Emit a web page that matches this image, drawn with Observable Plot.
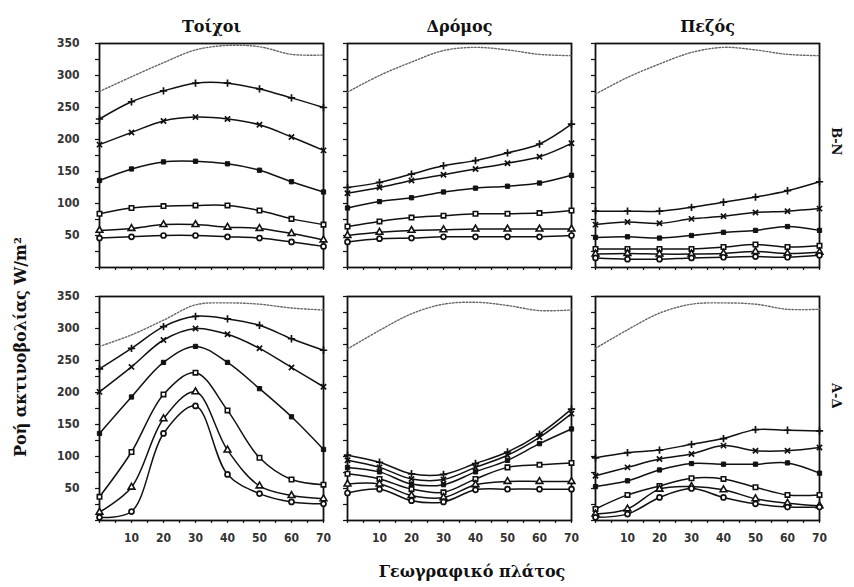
<!DOCTYPE html>
<html>
<head>
<meta charset="utf-8">
<script src="https://cdn.jsdelivr.net/npm/d3@7"></script>
<script src="https://cdn.jsdelivr.net/npm/@observablehq/plot@0.6"></script>
<style>
  body { margin: 0; background: #fff; }
</style>
</head>
<body>
<div id="chart"></div>
<script>
// Geographic latitude (degrees) at which each flux was computed
const latitudes = [0, 10, 20, 30, 40, 50, 60, 70];
const surfaces = ["Τοίχοι", "Δρόμος", "Πεζός"];
const orientations = ["Β-Ν", "Α-Δ"];
// Series order inside each panel: reference (dotted) curve, then the six marked curves
const seriesNames = ["reference", "plus", "times", "squareFilled", "squareOpen", "triangle", "circle"];

// Radiation flux (W/m²), street axis North–South
const walls_NS = [
  [275, 298, 320, 340, 347, 345, 333, 332],
  [232, 259, 276, 288, 288, 279, 265, 250],
  [192, 211, 229, 235, 232, 223, 204, 183],
  [136, 154, 165, 166, 162, 152, 134, 118],
  [84, 93, 96, 97, 97, 89, 76, 67],
  [58, 61, 67, 67, 63, 61, 53, 43],
  [46, 48, 50, 50, 48, 46, 40, 33]
];
const road_NS = [
  [274, 300, 321, 339, 344, 340, 333, 331],
  [125, 133, 146, 159, 167, 179, 193, 224],
  [116, 125, 136, 145, 154, 163, 173, 194],
  [93, 103, 109, 118, 124, 127, 132, 144],
  [64, 72, 78, 81, 84, 84, 85, 89],
  [50, 55, 58, 59, 60, 60, 60, 60],
  [40, 45, 46, 48, 48, 48, 48, 50]
];
const pavement_NS = [
  [271, 297, 318, 336, 344, 340, 333, 331],
  [88, 88, 88, 94, 102, 110, 120, 134],
  [67, 71, 69, 76, 80, 86, 88, 92],
  [47, 48, 46, 50, 55, 58, 64, 58],
  [29, 29, 29, 29, 32, 36, 32, 34],
  [21, 22, 21, 21, 22, 25, 22, 24],
  [15, 13, 13, 15, 16, 17, 16, 19]
];

// Radiation flux (W/m²), street axis East–West
const walls_EW = [
  [272, 290, 313, 337, 340, 338, 332, 329],
  [237, 269, 303, 319, 315, 305, 284, 266],
  [201, 240, 282, 300, 291, 269, 239, 209],
  [136, 193, 247, 272, 247, 206, 162, 111],
  [37, 107, 197, 231, 172, 98, 64, 56],
  [13, 52, 159, 201, 110, 54, 39, 34],
  [5, 14, 136, 179, 72, 42, 29, 26]
];
const road_EW = [
  [268, 297, 323, 338, 341, 336, 328, 329],
  [102, 91, 73, 72, 89, 107, 135, 174],
  [94, 83, 65, 64, 83, 102, 130, 167],
  [83, 76, 57, 56, 76, 94, 120, 143],
  [73, 65, 49, 44, 65, 83, 87, 90],
  [57, 57, 39, 36, 56, 61, 61, 61],
  [43, 49, 31, 29, 48, 49, 49, 49]
];
const pavement_EW = [
  [269, 298, 324, 338, 340, 338, 330, 330],
  [98, 106, 110, 119, 128, 142, 141, 140],
  [70, 83, 96, 104, 117, 109, 109, 114],
  [53, 62, 79, 89, 88, 88, 90, 74],
  [18, 40, 54, 66, 65, 52, 40, 40],
  [10, 18, 49, 53, 48, 34, 27, 23],
  [5, 10, 36, 50, 36, 26, 21, 21]
];

const yTicks = [50, 100, 150, 200, 250, 300, 350];
const xTicks = [10, 20, 30, 40, 50, 60, 70];
const yTitle = "Ροή ακτινοβολίας W/m²";
const xTitle = "Γεωγραφικό πλάτος";

const panels = [
  {surface: "Τοίχοι", orient: "Β-Ν", values: walls_NS},
  {surface: "Δρόμος", orient: "Β-Ν", values: road_NS},
  {surface: "Πεζός", orient: "Β-Ν", values: pavement_NS},
  {surface: "Τοίχοι", orient: "Α-Δ", values: walls_EW},
  {surface: "Δρόμος", orient: "Α-Δ", values: road_EW},
  {surface: "Πεζός", orient: "Α-Δ", values: pavement_EW}
];

// Long table: one row per (panel, series, latitude)
const rows = panels.flatMap(p =>
  p.values.flatMap((vals, i) =>
    vals.map((v, j) => ({surface: p.surface, orient: p.orient, series: seriesNames[i], lat: latitudes[j], value: v}))
  )
);

const markerStyle = {
  plus: {symbol: "plus", fill: "none", stroke: "#111", strokeWidth: 1.7, r: 2.5},
  times: {symbol: "times", fill: "none", stroke: "#111", strokeWidth: 1.7, r: 2.5},
  squareFilled: {symbol: "square", fill: "#111", stroke: "#111", strokeWidth: 1, r: 2.4},
  squareOpen: {symbol: "square", fill: "#fff", stroke: "#111", strokeWidth: 1.6, r: 2.5},
  triangle: {symbol: "triangle", fill: "#fff", stroke: "#111", strokeWidth: 1.6, r: 2.5},
  circle: {symbol: "circle", fill: "#fff", stroke: "#111", strokeWidth: 1.7, r: 2.5}
};

const facetPos = {x: "lat", y: "value", fx: "surface", fy: "orient"};
const serif = "DejaVu Serif, Liberation Serif, serif";
const narrow = "Liberation Sans Narrow, DejaVu Sans Condensed, sans-serif";

const chart = Plot.plot({
  width: 854,
  height: 587,
  marginLeft: 99,
  marginRight: 35,
  marginTop: 43,
  marginBottom: 67,
  facet: {marginTop: 0, marginRight: 0, marginBottom: 0, marginLeft: 0},
  style: {background: "#fff", color: "#111"},
  x: {domain: [0, 70]},
  y: {domain: [0, 350]},
  fx: {domain: surfaces, paddingInner: 0.097, paddingOuter: 0},
  fy: {domain: orientations, paddingInner: 0.115, paddingOuter: 0, axis: null},
  marks: [
    // minor tick marks on every panel
    Plot.axisY({ticks: d3.range(0, 351, 25), tickSize: 4, fill: "none", label: null, facetAnchor: null, strokeWidth: 1.2}),
    Plot.axisX({ticks: d3.range(0, 71, 5), tickSize: 3, fill: "none", label: null, facetAnchor: null, strokeWidth: 1.2}),
    // labelled axes on the outer panels
    Plot.axisY({ticks: yTicks, tickSize: 0, tickPadding: 20, label: null, fontSize: 12, fontWeight: "bold", fontFamily: narrow, fill: "#333"}),
    Plot.axisX({ticks: xTicks, tickSize: 0, tickPadding: 13, label: null, fontSize: 12, fontWeight: "bold", fontFamily: narrow, fill: "#333"}),
    Plot.axisFx({anchor: "top", tickSize: 0, tickPadding: 12, label: null, fontSize: 16, fontWeight: "bold", fontFamily: serif}),
    // street orientation label on the right of each row
    Plot.text(orientations, {fx: () => "Πεζός", fy: d => d, text: d => d, frameAnchor: "right", dx: 17, rotate: 90, fontSize: 13, fontWeight: "bold", fontFamily: serif}),
    Plot.frame({stroke: "#111", strokeWidth: 1.8}),
    // reference curve
    Plot.line(rows.filter(d => d.series === "reference"), {...facetPos, stroke: "#666", strokeWidth: 1.4, strokeDasharray: "1.6,1.8", curve: "catmull-rom"}),
    // marked curves
    Plot.line(rows.filter(d => d.series !== "reference"), {...facetPos, z: "series", stroke: "#111", strokeWidth: 1.5, curve: "catmull-rom"}),
    ...Object.entries(markerStyle).map(([name, s]) =>
      Plot.dot(rows.filter(d => d.series === name), {...facetPos, ...s})
    )
  ]
});

// Shared axis titles for the whole grid
const svg = d3.select(chart);
svg.append("text")
  .attr("transform", "translate(21,347) rotate(-90)")
  .attr("text-anchor", "middle")
  .attr("dominant-baseline", "middle")
  .attr("font-family", serif)
  .attr("font-weight", "bold")
  .attr("font-size", 16)
  .attr("fill", "#111")
  .text(yTitle);
svg.append("text")
  .attr("x", 472)
  .attr("y", 572)
  .attr("text-anchor", "middle")
  .attr("dominant-baseline", "middle")
  .attr("font-family", serif)
  .attr("font-weight", "bold")
  .attr("font-size", 16)
  .attr("fill", "#111")
  .text(xTitle);

document.getElementById("chart").appendChild(chart);
</script>
</body>
</html>
